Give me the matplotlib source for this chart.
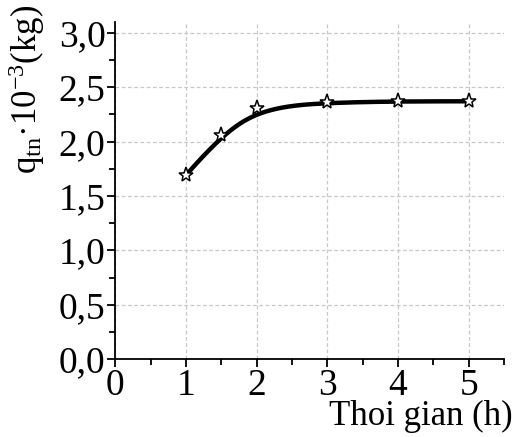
import numpy as np
import matplotlib
matplotlib.use("Agg")
import matplotlib.pyplot as plt
from matplotlib.ticker import MultipleLocator, FuncFormatter

t = [1, 1.5, 2, 3, 4, 5]
q = [1.69, 2.06, 2.31, 2.36, 2.37, 2.37]

plt.rcParams['font.family'] = ['Liberation Serif', 'DejaVu Serif']
plt.rcParams['mathtext.fontset'] = 'custom'
plt.rcParams['mathtext.rm'] = 'Liberation Serif'
plt.rcParams['mathtext.it'] = 'Liberation Serif'


def bspline_curve(px, py, k=3, num=400):
    """Clamped B-spline using the data points as control points."""
    P = np.column_stack([px, py]).astype(float)
    n = len(P)
    inner = np.linspace(0, 1, n - k + 1)[1:-1]
    knots = np.concatenate([np.zeros(k + 1), inner, np.ones(k + 1)])
    u = np.linspace(0, 1, num)
    u[-1] = 1 - 1e-12

    def basis(i, d, uu):
        if d == 0:
            return ((knots[i] <= uu) & (uu < knots[i + 1])).astype(float)
        left = 0.0
        den = knots[i + d] - knots[i]
        if den > 0:
            left = (uu - knots[i]) / den * basis(i, d - 1, uu)
        right = 0.0
        den = knots[i + d + 1] - knots[i + 1]
        if den > 0:
            right = (knots[i + d + 1] - uu) / den * basis(i + 1, d - 1, uu)
        return left + right

    B = np.column_stack([basis(i, k, u) for i in range(n)])
    C = B @ P
    return C[:, 0], C[:, 1]


fig = plt.figure(figsize=(5.14, 4.37), dpi=100)
ax = fig.add_axes([0.224, 0.178, 0.757, 0.772])

cx, cy = bspline_curve(t, q)
ax.plot(cx, cy, color='black', lw=3.2, zorder=3)
ax.plot(t, q, linestyle='none', marker='*', markersize=11, markerfacecolor='white',
        markeredgecolor='black', markeredgewidth=1.1, zorder=4)

ax.set_xlim(0, 5.5)
ax.set_ylim(0, 3.1)
ax.xaxis.set_major_locator(MultipleLocator(1))
ax.xaxis.set_minor_locator(MultipleLocator(0.5))
ax.yaxis.set_major_locator(MultipleLocator(0.5))
ax.yaxis.set_minor_locator(MultipleLocator(0.25))
ax.yaxis.set_major_formatter(FuncFormatter(lambda v, p: f"{v:.1f}".replace('.', ',')))
ax.xaxis.set_major_formatter(FuncFormatter(lambda v, p: f"{v:.0f}"))

for s in ['top', 'right']:
    ax.spines[s].set_visible(False)
for s in ['left', 'bottom']:
    ax.spines[s].set_linewidth(1.3)
ax.tick_params(which='major', direction='out', length=6, width=1.3, labelsize=27, pad=1)
ax.tick_params(which='minor', direction='out', length=4, width=1.3)
ax.grid(True, which='major', color='#c8c8c8', linestyle=(0, (3, 2)), lw=0.9)
ax.set_axisbelow(True)

fig.text(0.998, 0.0275, 'Thoi gian (h)', ha='right', va='baseline', fontsize=25)
fig.text(0.012, 0.795, r'q$_{\mathrm{tn}}$·10$^{-3}$(kg)', rotation=90, ha='left', va='center', fontsize=25)

fig.savefig('out.png', dpi=100)
